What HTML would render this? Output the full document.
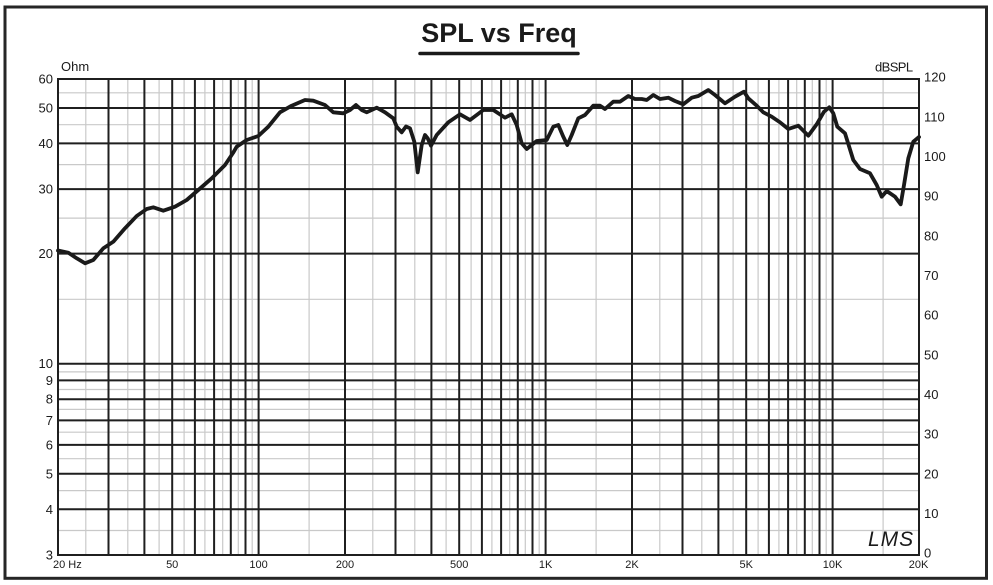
<!DOCTYPE html>
<html>
<head>
<meta charset="utf-8">
<style>
  html, body { margin:0; padding:0; background:#fff; }
  svg { display:block; }
  text { font-family: "Liberation Sans", Arial, sans-serif; fill:#1a1a1a; }
</style>
</head>
<body>
<svg width="993" height="585" viewBox="0 0 993 585" xmlns="http://www.w3.org/2000/svg">
  <rect x="0" y="0" width="993" height="585" fill="#fff"/>
  <!-- outer frame -->
  <rect x="5" y="7" width="981.5" height="571.3" fill="none" stroke="#262626" stroke-width="3"/>

  <!-- title -->
  <text x="499" y="42" font-size="27" font-weight="bold" text-anchor="middle">SPL vs Freq</text>
  <line x1="420" y1="53.5" x2="578" y2="53.5" stroke="#1a1a1a" stroke-width="3.5" stroke-linecap="round"/>

  <!-- light grid -->
  <g stroke="#c9c9c9" stroke-width="1.2">
    <line x1="85.8" y1="79" x2="85.8" y2="555"/>
    <line x1="127.8" y1="79" x2="127.8" y2="555"/>
    <line x1="159.1" y1="79" x2="159.1" y2="555"/>
    <line x1="184.1" y1="79" x2="184.1" y2="555"/>
    <line x1="204.9" y1="79" x2="204.9" y2="555"/>
    <line x1="222.7" y1="79" x2="222.7" y2="555"/>
    <line x1="238.3" y1="79" x2="238.3" y2="555"/>
    <line x1="252.2" y1="79" x2="252.2" y2="555"/>
    <line x1="309.1" y1="79" x2="309.1" y2="555"/>
    <line x1="372.8" y1="79" x2="372.8" y2="555"/>
    <line x1="414.8" y1="79" x2="414.8" y2="555"/>
    <line x1="446.1" y1="79" x2="446.1" y2="555"/>
    <line x1="471.1" y1="79" x2="471.1" y2="555"/>
    <line x1="491.9" y1="79" x2="491.9" y2="555"/>
    <line x1="509.7" y1="79" x2="509.7" y2="555"/>
    <line x1="525.3" y1="79" x2="525.3" y2="555"/>
    <line x1="539.2" y1="79" x2="539.2" y2="555"/>
    <line x1="596.1" y1="79" x2="596.1" y2="555"/>
    <line x1="659.8" y1="79" x2="659.8" y2="555"/>
    <line x1="701.8" y1="79" x2="701.8" y2="555"/>
    <line x1="733.1" y1="79" x2="733.1" y2="555"/>
    <line x1="758.1" y1="79" x2="758.1" y2="555"/>
    <line x1="778.9" y1="79" x2="778.9" y2="555"/>
    <line x1="796.7" y1="79" x2="796.7" y2="555"/>
    <line x1="812.3" y1="79" x2="812.3" y2="555"/>
    <line x1="826.2" y1="79" x2="826.2" y2="555"/>
    <line x1="883.1" y1="79" x2="883.1" y2="555"/>

    <line x1="58" y1="92.8" x2="919" y2="92.8"/>
    <line x1="58" y1="124.7" x2="919" y2="124.7"/>
    <line x1="58" y1="164.6" x2="919" y2="164.6"/>
    <line x1="58" y1="218.1" x2="919" y2="218.1"/>
    <line x1="58" y1="299.3" x2="919" y2="299.3"/>
    <line x1="58" y1="371.9" x2="919" y2="371.9"/>
    <line x1="58" y1="389.5" x2="919" y2="389.5"/>
    <line x1="58" y1="409.4" x2="919" y2="409.4"/>
    <line x1="58" y1="432.2" x2="919" y2="432.2"/>
    <line x1="58" y1="458.7" x2="919" y2="458.7"/>
    <line x1="58" y1="490.6" x2="919" y2="490.6"/>
    <line x1="58" y1="530.5" x2="919" y2="530.5"/>
  </g>

  <!-- dark grid -->
  <g stroke="#1f1f1f" stroke-width="2">
    <line x1="108.5" y1="79" x2="108.5" y2="555"/>
    <line x1="144.4" y1="79" x2="144.4" y2="555"/>
    <line x1="172.2" y1="79" x2="172.2" y2="555"/>
    <line x1="194.9" y1="79" x2="194.9" y2="555"/>
    <line x1="214.1" y1="79" x2="214.1" y2="555"/>
    <line x1="230.8" y1="79" x2="230.8" y2="555"/>
    <line x1="245.5" y1="79" x2="245.5" y2="555"/>
    <line x1="258.6" y1="79" x2="258.6" y2="555"/>
    <line x1="345" y1="79" x2="345" y2="555"/>
    <line x1="395.5" y1="79" x2="395.5" y2="555"/>
    <line x1="431.4" y1="79" x2="431.4" y2="555"/>
    <line x1="459.2" y1="79" x2="459.2" y2="555"/>
    <line x1="481.9" y1="79" x2="481.9" y2="555"/>
    <line x1="501.1" y1="79" x2="501.1" y2="555"/>
    <line x1="517.8" y1="79" x2="517.8" y2="555"/>
    <line x1="532.5" y1="79" x2="532.5" y2="555"/>
    <line x1="545.6" y1="79" x2="545.6" y2="555"/>
    <line x1="632" y1="79" x2="632" y2="555"/>
    <line x1="682.5" y1="79" x2="682.5" y2="555"/>
    <line x1="718.4" y1="79" x2="718.4" y2="555"/>
    <line x1="746.2" y1="79" x2="746.2" y2="555"/>
    <line x1="768.9" y1="79" x2="768.9" y2="555"/>
    <line x1="788.1" y1="79" x2="788.1" y2="555"/>
    <line x1="804.8" y1="79" x2="804.8" y2="555"/>
    <line x1="819.5" y1="79" x2="819.5" y2="555"/>
    <line x1="832.6" y1="79" x2="832.6" y2="555"/>

    <line x1="58" y1="108" x2="919" y2="108"/>
    <line x1="58" y1="143.4" x2="919" y2="143.4"/>
    <line x1="58" y1="189.1" x2="919" y2="189.1"/>
    <line x1="58" y1="253.6" x2="919" y2="253.6"/>
    <line x1="58" y1="363.7" x2="919" y2="363.7"/>
    <line x1="58" y1="380.4" x2="919" y2="380.4"/>
    <line x1="58" y1="399.2" x2="919" y2="399.2"/>
    <line x1="58" y1="420.4" x2="919" y2="420.4"/>
    <line x1="58" y1="444.9" x2="919" y2="444.9"/>
    <line x1="58" y1="473.8" x2="919" y2="473.8"/>
    <line x1="58" y1="509.3" x2="919" y2="509.3"/>
    <rect x="58" y="79" width="861" height="476" fill="none"/>
  </g>

  <!-- left axis labels -->
  <g font-size="13" text-anchor="end">
    <text x="53" y="83.5">60</text>
    <text x="53" y="112.5">50</text>
    <text x="53" y="148">40</text>
    <text x="53" y="193.5">30</text>
    <text x="53" y="258">20</text>
    <text x="53" y="368">10</text>
    <text x="53" y="385">9</text>
    <text x="53" y="403.5">8</text>
    <text x="53" y="425">7</text>
    <text x="53" y="449.5">6</text>
    <text x="53" y="478.5">5</text>
    <text x="53" y="514">4</text>
    <text x="53" y="559.5">3</text>
  </g>
  <text x="61" y="71" font-size="13">Ohm</text>
  <text x="875" y="71.5" font-size="13" letter-spacing="-0.6">dBSPL</text>

  <!-- right axis labels -->
  <g font-size="13">
    <text x="924" y="81.7">120</text>
    <text x="924" y="121.4">110</text>
    <text x="924" y="161">100</text>
    <text x="924" y="200.7">90</text>
    <text x="924" y="240.4">80</text>
    <text x="924" y="280">70</text>
    <text x="924" y="319.7">60</text>
    <text x="924" y="359.4">50</text>
    <text x="924" y="399">40</text>
    <text x="924" y="438.7">30</text>
    <text x="924" y="478.4">20</text>
    <text x="924" y="518">10</text>
    <text x="924" y="557.7">0</text>
  </g>

  <!-- bottom labels -->
  <g font-size="11" text-anchor="middle">
    <text x="53" y="568" text-anchor="start">20 Hz</text>
    <text x="172.2" y="568">50</text>
    <text x="258.6" y="568">100</text>
    <text x="345" y="568">200</text>
    <text x="459.2" y="568">500</text>
    <text x="545.6" y="568">1K</text>
    <text x="632" y="568">2K</text>
    <text x="746.2" y="568">5K</text>
    <text x="832.6" y="568">10K</text>
    <text x="918.5" y="568">20K</text>
  </g>

  <!-- LMS logo -->
  <text x="868" y="546" font-size="21" font-style="italic" letter-spacing="1" style="fill:#1a1a1a;font-weight:normal;">LMS</text>

  <!-- curve -->
  <polyline fill="none" stroke="#1a1a1a" stroke-width="3.8" stroke-linejoin="round" stroke-linecap="round"
    points="58,250.5 68.3,252.7 76.7,258.3 85,263.3 93.3,260 103.3,248.3 113.3,241.7 125,228.3 136.7,216 146.7,209 153.3,207.3 163.3,210.7 175,206.7 186.7,200 198.3,190 211.7,178.3 225,165 233,153 236.7,146.7 246.7,140 258.3,136 268.3,126.7 280,112.3 291.7,105.7 305,100 313.3,100.7 325,105 333.3,112.3 343.3,113.3 350,110 356,105 361.7,110 366.7,112.3 376.7,107.7 385,112.3 393.3,118.3 396.7,126.7 401.7,132.3 406,126.5 410,128.3 414.3,141.7 417.7,172.3 421.7,145 425,135 427.7,138.3 431,145.7 436.7,135 448.3,122.3 460,114.3 470,120 476.7,115 483.3,110 493.3,110 498.3,113.3 505,117.7 511.7,114.3 516.7,125 521.7,143.3 526.7,149 531.7,145 536.7,141 546.7,140 553.3,126.7 558.3,125 563.3,136.7 567.3,145 571.7,135 578.3,118.3 585,115 593.3,105.7 600,105.7 605,109 613.3,101.7 620,101.7 628.3,96 635,99 641.7,99 646.7,100 653.3,95 660,99 668.3,97.7 675,101 683.3,104.3 691.7,97.7 698.3,96 708.3,90 715,95 725,103.3 735,96.7 744,91.7 748.3,98.3 756.7,105.7 763.3,112.3 771.7,116.7 780,122.3 788.3,129 798.3,125.7 808.3,135.7 816.7,124.3 824,111.7 829.3,107.3 833.3,113.3 837.3,126.7 845,133.3 853.3,160 860,169 870,173.3 876.7,185 881.7,196.7 886.7,191 895,196.7 900.7,204.3 904,185 908.3,158.3 913.3,141.7 919,137"/>
</svg>
</body>
</html>
